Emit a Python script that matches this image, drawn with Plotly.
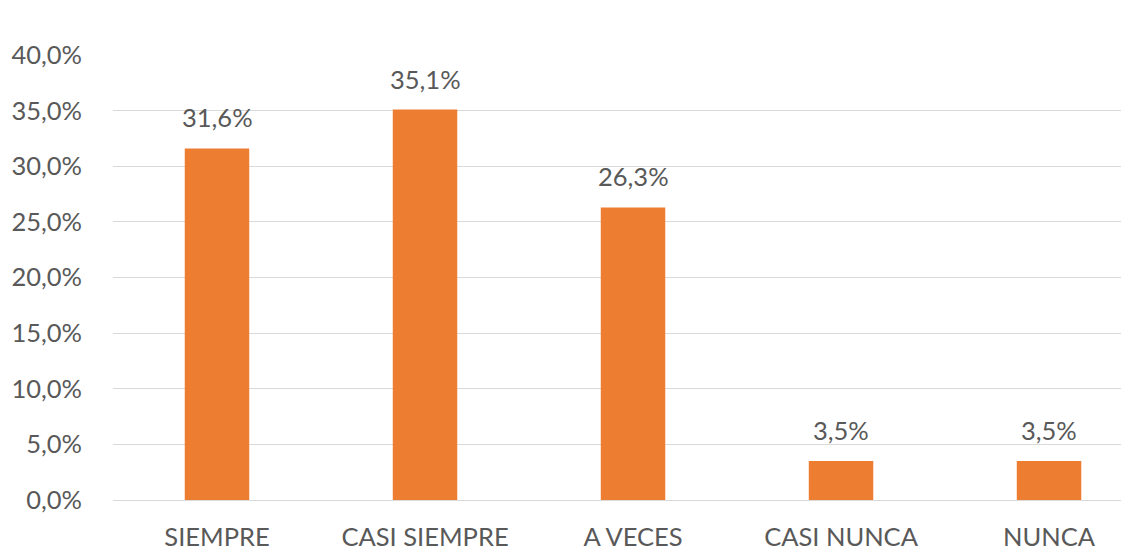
import plotly.graph_objects as go

categories = ["SIEMPRE", "CASI SIEMPRE", "A VECES", "CASI NUNCA", "NUNCA"]
values = [0.316, 0.351, 0.263, 0.035, 0.035]
y_ticks = [0, 0.05, 0.10, 0.15, 0.20, 0.25, 0.30, 0.35, 0.40]

font_family = "Lato, 'Open Sans', sans-serif"
gray = "#595959"
fsize = 25.5

fig = go.Figure(
    go.Bar(
        x=categories,
        y=values,
        marker=dict(color="#ED7D31", line=dict(width=0)),
        width=0.31,
        hoverinfo="skip",
    )
)

for c, v in zip(categories, values):
    fig.add_annotation(
        x=c,
        y=v,
        text=f"{v * 100:.1f}%".replace(".", ","),
        showarrow=False,
        yanchor="middle",
        yshift=31,
        font=dict(size=fsize, color=gray, family=font_family),
    )

fig.update_layout(
    width=1121,
    height=549,
    margin=dict(l=113, r=0, t=55, b=49),
    paper_bgcolor="white",
    plot_bgcolor="white",
    separators=",.",
    showlegend=False,
    font=dict(family=font_family, color=gray, size=fsize),
)
fig.update_xaxes(
    range=[-0.5, 4.346],
    showgrid=False,
    showline=False,
    ticks="",
    automargin=False,
    tickfont=dict(size=fsize, color=gray, family=font_family),
    ticklabelstandoff=19,
)
fig.update_yaxes(
    range=[0, 0.40],
    tickvals=y_ticks,
    tickformat=".1%",
    showgrid=True,
    gridcolor="#D9D9D9",
    gridwidth=1,
    zeroline=True,
    zerolinecolor="#D9D9D9",
    zerolinewidth=1,
    showline=False,
    ticks="",
    automargin=False,
    tickfont=dict(size=fsize, color=gray, family=font_family),
    ticklabelstandoff=30,
)

fig.write_html(
    "out.html",
    config={"displayModeBar": False, "staticPlot": True},
    post_script="document.body.style.margin='0';document.body.style.padding='0';",
)
